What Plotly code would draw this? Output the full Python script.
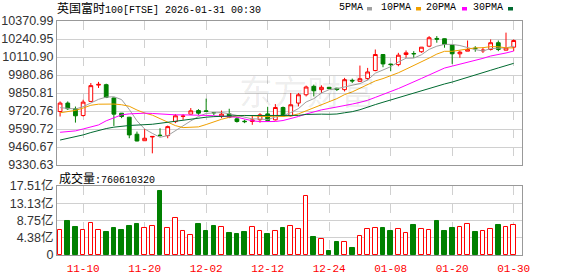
import plotly.graph_objects as go

dates = ["11-05","11-06","11-07","11-10","11-11","11-12","11-13","11-14","11-17","11-18",
         "11-19","11-20","11-21","11-24","11-25","11-26","11-27","11-28","12-01","12-02",
         "12-03","12-04","12-05","12-08","12-09","12-10","12-11","12-12","12-15","12-16",
         "12-17","12-18","12-19","12-22","12-23","12-24","12-29","12-30","12-31","01-02",
         "01-05","01-06","01-07","01-08","01-09","01-12","01-13","01-14","01-15","01-16",
         "01-19","01-20","01-21","01-22","01-23","01-26","01-27","01-28","01-29","01-30"]

open_ = [9717,9778,9737,9688,9790,9908,9911,9815,9705,9676,
         9553,9506,9533,9546,9543,9644,9682,9698,9724,9722,
         9710,9681,9700,9664,9647,9645,9658,9700,9657,9746,
         9686,9778,9838,9899,9875,9892,9885,9875,9942,9935,
         9955,10013,10129,10060,10056,10129,10136,10149,10189,10245,
         10243,10197,10134,10153,10175,10155,10165,10214,10160,10182]
high = [9790,9790,9753,9802,9923,9931,9918,9818,9706,9678,
        9572,9591,9539,9596,9615,9698,9698,9742,9734,9810,
        9712,9724,9737,9676,9658,9686,9705,9751,9771,9753,
        9851,9851,9904,9911,9906,9895,9889,9960,9955,10049,
        10032,10165,10131,10062,10141,10158,10153,10182,10262,10262,
        10245,10197,10158,10230,10189,10180,10238,10230,10287,10238]
low = [9681,9729,9637,9681,9788,9887,9814,9613,9669,9524,
       9502,9504,9415,9535,9524,9633,9657,9696,9693,9716,
       9690,9669,9669,9637,9633,9621,9637,9644,9652,9681,
       9681,9754,9826,9826,9851,9878,9865,9862,9923,9933,
       9947,10008,10037,10008,10044,10105,10105,10141,10182,10214,
       10178,10061,10105,10153,10149,10140,10158,10153,10160,10153]
close = [9778,9737,9686,9785,9904,9913,9819,9698,9681,9548,
         9504,9524,9537,9544,9608,9686,9684,9722,9705,9718,
         9708,9698,9676,9645,9644,9657,9693,9652,9746,9686,
         9766,9838,9894,9867,9892,9882,9876,9947,9938,9954,
         10003,10129,10061,10056,10124,10141,10134,10182,10250,10240,
         10202,10134,10146,10165,10171,10160,10214,10165,10177,10230]

ma5 = [9745,9742,9735,9752,9778,9805,9821,9824,9803,9732,
       9650,9591,9559,9531,9543,9580,9612,9649,9681,9703,
       9707,9710,9701,9689,9674,9664,9663,9658,9678,9687,
       9709,9738,9786,9810,9851,9875,9882,9893,9907,9919,
       9944,9994,10017,10041,10075,10102,10103,10127,10166,10189,
       10202,10202,10194,10177,10164,10155,10171,10175,10177,10189]
ma10 = [9708,9715,9725,9742,9762,9770,9772,9771,9766,9755,
        9728,9706,9691,9667,9638,9615,9601,9604,9606,9623,
        9644,9661,9675,9685,9689,9686,9687,9680,9684,9681,
        9686,9700,9722,9744,9769,9792,9810,9839,9859,9885,
        9909,9938,9955,9974,9997,10023,10049,10072,10103,10132,
        10152,10152,10161,10172,10177,10178,10186,10185,10177,10176]
ma20 = [9567,9570,9577,9591,9608,9620,9650,9673,9693,9700,
        9705,9705,9703,9698,9698,9693,9693,9693,9691,9689,
        9686,9684,9683,9676,9663,9650,9644,9642,9645,9652,
        9665,9681,9699,9715,9729,9739,9748,9760,9771,9783,
        9798,9819,9839,9859,9883,9907,9929,9956,9981,10009,
        10031,10045,10058,10073,10087,10101,10118,10128,10140,10154]
ma30 = [9511,9522,9535,9548,9565,9580,9594,9604,9612,9616,
        9619,9621,9625,9632,9640,9648,9656,9664,9670,9676,
        9680,9684,9686,9687,9688,9688,9689,9689,9688,9686,
        9686,9689,9696,9699,9698,9697,9699,9708,9716,9730,
        9746,9767,9784,9801,9818,9833,9848,9864,9882,9899,
        9916,9930,9946,9963,9981,9998,10015,10032,10046,10065]

volume_yi = [6.3,8.6,7.2,6.3,8.0,6.3,5.8,6.8,6.3,7.3,
             7.9,6.8,7.3,16.2,6.8,9.3,6.0,5.1,7.9,6.1,
             7.3,7.0,5.7,5.3,5.8,7.0,6.0,5.3,6.0,6.8,
             7.3,6.5,15.0,4.5,4.0,1.0,3.4,3.3,1.8,4.7,
             6.5,6.8,6.8,6.1,6.5,5.6,7.6,6.5,6.3,8.6,
             6.1,6.8,7.0,7.9,5.8,6.0,6.5,7.6,7.0,7.61]

tick_dates = ["11-10","11-20","12-02","12-12","12-24","01-08","01-20","01-30"]
price_ticks = [9330.63,9460.67,9590.72,9720.76,9850.81,9980.86,10110.90,10240.95,10370.99]
price_tick_text = ["9330.63","9460.67","9590.72","9720.76","9850.81","9980.86","10110.90","10240.95","10370.99"]
vol_ticks = [0,4.38,8.75,13.13,17.51]
vol_tick_text = ["0","4.38亿","8.75亿","13.13亿","17.51亿"]

title_cn = "英国富时100"
title_rest = "[FTSE] 2026-01-31 00:30"
vol_label = "成交量"
vol_last = "760610320"
ma_names = ["5PMA","10PMA","20PMA","30PMA"]

RED = "#ff0000"
GREEN = "#008000"
ma_colors = ["#a0a0a0", "#f0a000", "#ff00ff", "#006a30"]
GRID = "#d0d0d0"
FRAME = "#999999"

fig = go.Figure()

fig.add_trace(go.Candlestick(
    x=dates, open=open_, high=high, low=low, close=close,
    increasing=dict(line=dict(color=RED, width=1), fillcolor="white"),
    decreasing=dict(line=dict(color=GREEN, width=1), fillcolor=GREEN),
    whiskerwidth=0, xaxis="x", yaxis="y", showlegend=False, hoverinfo="skip"))

for arr, col in zip([ma5, ma10, ma20, ma30], ma_colors):
    fig.add_trace(go.Scatter(x=dates, y=arr, mode="lines",
                             line=dict(color=col, width=1),
                             xaxis="x", yaxis="y", showlegend=False, hoverinfo="skip"))

vcolors = [RED if c >= o else GREEN for o, c in zip(open_, close)]
vfill = ["white" if c >= o else GREEN for o, c in zip(open_, close)]
fig.add_trace(go.Bar(x=dates, y=volume_yi, width=0.6,
                     marker=dict(color=vfill, line=dict(color=vcolors, width=1)),
                     xaxis="x2", yaxis="y2", showlegend=False, hoverinfo="skip"))

xr = [-0.4, 60.08]
common_x = dict(type="category", range=xr, tickvals=tick_dates, ticktext=tick_dates,
                showgrid=True, gridcolor=GRID, griddash="dash", gridwidth=1,
                showline=True, linecolor=FRAME, linewidth=1, mirror=True,
                zeroline=False, ticks="", fixedrange=True, automargin=False)

fig.update_layout(
    width=578, height=276,
    margin=dict(l=57, r=56, t=21, b=21, autoexpand=False),
    paper_bgcolor="white", plot_bgcolor="white",
    bargap=0,
    xaxis=dict(**common_x, domain=[0, 1], anchor="y", showticklabels=False,
               rangeslider=dict(visible=False)),
    xaxis2=dict(**common_x, domain=[0, 1], anchor="y2", showticklabels=True,
                ticklabelstandoff=3,
                tickfont=dict(family="Liberation Mono", size=11, color=RED)),
    yaxis=dict(domain=[0.3846, 1], range=[9330.63, 10370.99], tickvals=price_ticks,
               ticktext=price_tick_text, showgrid=True, gridcolor=GRID, gridwidth=1,
               showline=True, linecolor=FRAME, mirror=True, zeroline=False, ticks="",
               automargin=False,
               tickfont=dict(family="Liberation Sans", size=12.5, color="#333333")),
    yaxis2=dict(domain=[0, 0.2949], range=[0, 17.51], tickvals=vol_ticks,
                ticktext=vol_tick_text, showgrid=True, gridcolor=GRID, gridwidth=1,
                showline=True, linecolor=FRAME, mirror=True, zeroline=False, ticks="",
                automargin=False,
                tickfont=dict(family="Liberation Sans, Noto Sans CJK SC", size=12.5, color="#333333")),
)

ann = []
ann.append(dict(xref="paper", yref="paper", x=-0.004, y=1.0556, xanchor="left", yanchor="middle",
                showarrow=False,
                text=f"<span style='font-family:Noto Sans CJK SC;font-size:12px'>{title_cn[:4]}</span>"
                     f"<span style='font-family:Liberation Mono;font-size:10px'>{title_cn[4:]}{title_rest}</span>",
                font=dict(color="#000000", size=12)))
ann.append(dict(xref="paper", yref="paper", x=0.0, y=0.3333, xanchor="left", yanchor="middle",
                showarrow=False,
                text=f"<span style='font-family:Noto Sans CJK SC;font-size:12px'>{vol_label}</span>"
                     f"<span style='font-family:Liberation Mono;font-size:10px'>:{vol_last}</span>",
                font=dict(color="#000000", size=12)))
ann.append(dict(xref="paper", yref="paper", x=0.5376, y=0.705, xanchor="center", yanchor="middle",
                showarrow=False, text="东方财富",
                font=dict(family="Noto Sans CJK SC", size=34, color="rgba(0,0,0,0.08)")))

legend_x = [338, 380, 425, 472]
sq_x = [367, 416, 462, 508]
shapes = []
for name, lx, sx, col in zip(ma_names, legend_x, sq_x, ma_colors):
    ann.append(dict(xref="paper", yref="paper", x=(lx - 57) / 465 - 0.003, y=1.0556,
                    xanchor="left", yanchor="middle", showarrow=False, text=name,
                    font=dict(family="Liberation Mono", size=10, color="#000000")))
    shapes.append(dict(type="rect", xref="paper", yref="paper",
                       x0=(sx - 57) / 465, x1=(sx + 5 - 57) / 465,
                       y0=(255 - 10.5) / 234, y1=(255 - 7) / 234,
                       fillcolor=col, line=dict(width=0)))

fig.update_layout(annotations=ann, shapes=shapes)

fig.write_html("out.html")
